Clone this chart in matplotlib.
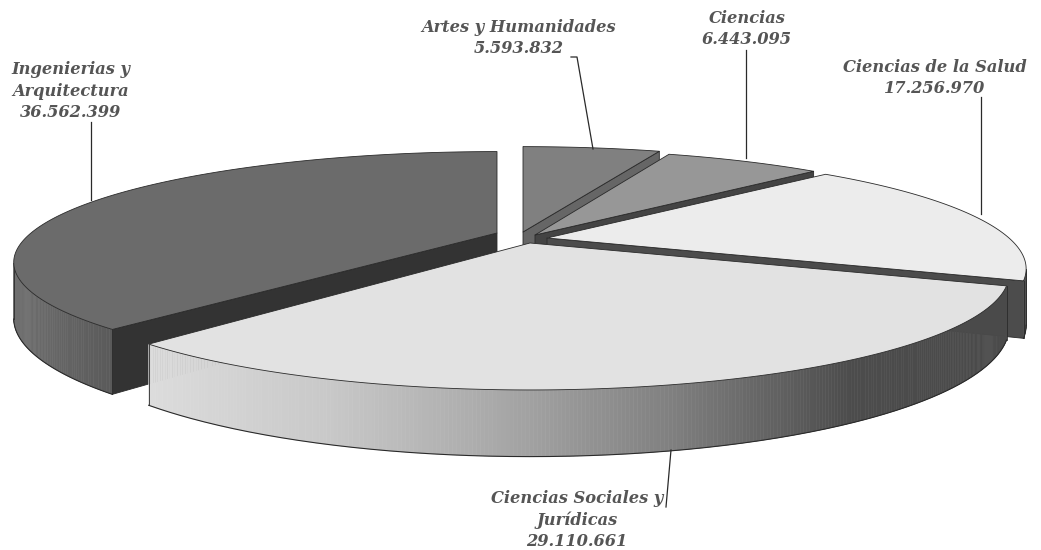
import numpy as np
import matplotlib
matplotlib.use("Agg")
import matplotlib.pyplot as plt

# Data
categories = ["Artes y Humanidades", "Ciencias", "Ciencias de la Salud",
              "Ciencias Sociales y\nJurídicas", "Ingenierias y\nArquitectura"]
values = [5593832, 6443095, 17256970, 29110661, 36562399]

# Style / layout
apex = [(523, 232), (535, 235), (547, 238), (530, 243), (497, 233)]
radius_x = [470, 462, 462, 462, 466]
radius_y = [108, 108, 108, 108, 103]
depth = [52, 52, 52, 49, 52]
top_col = ["#808080", "#979797", "#ececec", "#e2e2e2", "#6b6b6b"]
cut_col = ["#666666", "#444444", "#4c4c4c", "#4c4c4c", "#333333"]
visible_cut = ["end", "end", "end", None, "start"]
wall_stops = [
    ([0, 1], [0x70, 0x70]),
    ([0, 1], [0x60, 0x60]),
    ([0, 1], [0x50, 0x50]),
    ([150, 330, 500, 670, 850, 1010], [0xdc, 0xc8, 0xa8, 0x80, 0x4c, 0x4a]),
    ([10, 120, 500], [0x70, 0x58, 0x58]),
]
label_pos = [(519, 38), (747, 29), (935, 78), (577, 520), (71, 91)]
K = 0.265
FONT = dict(family="DejaVu Serif", weight="bold", style="italic", color="#555555",
            fontsize=11.7, ha="center", va="center", linespacing=1.34)
LINE = "#2a2a2a"


def project(theta, ap, rx, ry):
    """theta clockwise from the top of the pie, in radians, with perspective."""
    u, v = np.sin(theta), np.cos(theta)
    s = 1.0 / (1.0 + K * v)
    return ap[0] + rx * u * s, ap[1] - ry * v * s, s


fig = plt.figure(figsize=(10.41, 5.5), dpi=100)
ax = fig.add_axes([0, 0, 1, 1])
ax.set_xlim(0, 1041)
ax.set_ylim(550, 0)
ax.axis("off")

fractions = np.array(values, dtype=float) / np.sum(values)
edges = np.concatenate([[0], np.cumsum(fractions)]) * 2 * np.pi

# back-to-front order: the pie's front slice comes last
order = [0, 1, 2, 4, 3]
for rank, i in enumerate(order):
    z = 2 + rank
    a0, a1 = edges[i], edges[i + 1]
    ap, rx, ry, H = apex[i], radius_x[i], radius_y[i], depth[i]
    th = np.linspace(a0, a1, 300)
    x, y, s = project(th, ap, rx, ry)

    # the radial cut face that looks towards the viewer
    if visible_cut[i] is not None:
        a = a1 if visible_cut[i] == "end" else a0
        xe, ye, se = project(a, ap, rx, ry)
        ax.fill([ap[0], xe, xe, ap[0]], [ap[1], ye, ye + H * se, ap[1] + H],
                facecolor=cut_col[i], edgecolor=LINE, lw=0.6, zorder=z)

    # outer wall: only the part in front of the silhouette, shaded along x
    keep = np.cos(th) <= -K
    if keep.any():
        xw, yw, sw = x[keep], y[keep], s[keep]
        yb = yw + H * sw
        stops_x, stops_g = wall_stops[i]
        lo, hi = xw.min(), xw.max()
        for j in range(len(xw) - 1):
            xm = 0.5 * (xw[j] + xw[j + 1])
            pos = (xm - lo) / max(hi - lo, 1) if stops_x[-1] <= 1 else xm
            g = np.interp(pos, stops_x, stops_g) / 255.0
            ax.fill([xw[j], xw[j + 1], xw[j + 1], xw[j]],
                    [yw[j], yw[j + 1], yb[j + 1], yb[j]],
                    facecolor=(g, g, g), edgecolor=(g, g, g), lw=0.4, zorder=z)
        ax.plot(xw, yb, color=LINE, lw=0.8, zorder=z)
        for k in (0, -1):
            ax.plot([xw[k], xw[k]], [yw[k], yb[k]], color=LINE, lw=0.6, zorder=z)

    # top surface
    ax.fill(np.r_[ap[0], x], np.r_[ap[1], y], facecolor=top_col[i],
            edgecolor=LINE, lw=0.6, joinstyle="round", zorder=z)

# labels and leaders
for name, val, p in zip(categories, values, label_pos):
    ax.text(p[0], p[1], name + "\n" + f"{val:,}".replace(",", "."), zorder=10, **FONT)

leaders = [([571, 577, 593], [57, 57, 149]),
           ([746, 746], [50, 158]),
           ([981, 981], [97, 214]),
           ([91, 91], [122, 200]),
           ([671, 666], [450, 507])]
for lx, ly in leaders:
    ax.plot(lx, ly, color=LINE, lw=0.9, zorder=9)

fig.savefig("out.png", dpi=100, facecolor="white")
